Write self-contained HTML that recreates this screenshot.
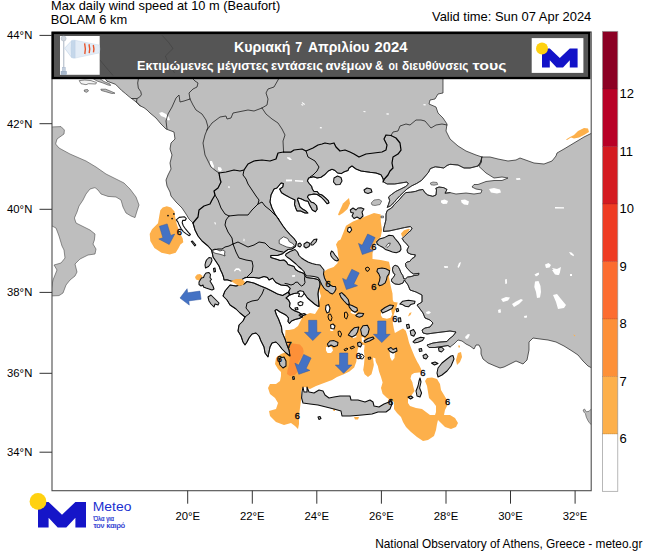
<!DOCTYPE html>
<html><head><meta charset="utf-8"><title>Max daily wind speed</title>
<style>
html,body{margin:0;padding:0;background:#fff;}
body{width:650px;height:551px;overflow:hidden;font-family:"Liberation Sans",sans-serif;}
svg{display:block;}
text{font-family:"Liberation Sans",sans-serif;}
</style></head><body>
<svg width="650" height="551" viewBox="0 0 650 551">
<rect width="650" height="551" fill="#fff"/>
<defs><clipPath id="c"><rect x="52" y="32" width="539.2" height="458.7"/></clipPath></defs>

<g clip-path="url(#c)">
<g fill="#FDB04B">
<path d="M338,214.6 L343,203.5 L349,198 L350,203.5 L347.5,209 L343,213 L339,215.4Z"/>
<path d="M380.8,214.6 L374,213 L364,217 L353,221.5 L346,225.7 L343.4,232.6 L340.6,239.5 L338,241 L336,244.4 L337.4,248.7 L338,254.5 L338.8,259 L337.4,263.2 L333.7,267 L328,269 L324.3,271.2 L322.4,278 L320,284 L319,290 L321,296 L319,302 L318.8,308 L315,314 L310,313 L305,315 L302,318 L300,322 L298,326 L294,329 L289,330 L285.5,330 L285,338 L287,342 L288,347 L286,352 L281,354 L276,358 L275,364 L278,369 L281,372 L281,376 L280,381 L276,384 L270,384 L268,388 L270,394 L275,398 L278,403 L276,409 L269,411 L270,416 L276,422 L284,425 L291,423 L295,426 L298,429 L299,424 L299,416 L300,408 L301,400 L301,392 L302,388 L305,387 L310,389 L316,386 L324,383 L332,380 L337,377 L343.8,374.3 L349.4,371.5 L354.2,367.4 L356.3,361.8 L357,355 L357.7,349.4 L359.8,343.8 L364.6,345.2 L364,350.8 L364.6,357.7 L364,364.6 L363.2,370 L364.6,374.3 L368,377 L371.5,374.3 L373,368.8 L374.3,363.2 L373.6,359 L375.7,361.8 L377.8,366 L379,371.5 L381,377 L382.6,382.6 L381,388 L382.6,393.7 L386.8,397.8 L391,400.6 L394,402 L394,409 L397,413 L401,417 L403,422 L406,427 L411,432 L417,437 L423,441 L428,440 L434,436 L436,430 L437,424 L438,420 L441,423 L445,427 L451,429 L456,427 L458,423 L455,418 L450,415 L444,415 L445,410 L447,406 L447,400 L444,395 L441,390 L440,384 L437,379 L432,377.6 L427,378 L425,381 L427,386 L428,392 L429,398 L433,402 L436,406 L436,412 L435,415 L430,415 L426,412 L422,409 L416,408 L410,406 L408,403 L408,399 L411.7,395 L414.5,391 L413,385.4 L412.4,382.2 L410.5,378.5 L411.5,374.8 L414.2,373 L421.2,372.3 L421.2,369.2 L418.9,364.6 L417.2,361.8 L414.5,356.3 L411.7,349.4 L409,342.5 L407.5,336.2 L405.8,330.7 L403,328.5 L401,329.6 L394.9,332.9 L393.8,328.5 L392.8,323 L392.8,319.8 L393.5,315.5 L394.9,311 L396.6,306.8 L397.7,302.4 L393.8,301.9 L392.8,300 L392.5,293.5 L390.5,285 L389,277 L390.5,268.6 L389,261.7 L380.8,260 L372.5,259 L372.5,253.4 L374,246.5 L376.6,241 L380.8,236.8 L382,230 L380.8,221.5Z"/>
<path d="M160.3,210.3 L159.2,216.2 L158,223.3 L152,229.2 L149.7,234 L150.3,241 L154.4,248 L161.5,252.8 L169.8,254.6 L175.7,252.8 L178.6,248 L180.4,244.5 L183.3,242.2 L182.7,238.6 L180.4,234 L178.6,229.2 L176.9,224.5 L175.9,220.4 L175,216.2 L174.5,211.5 L171,207.4 L166.8,206.2 L162.7,207.4Z"/>
<path d="M566,139.4 L570,137 L574,135 L578,131 L584,128 L588,128.6 L589,132 L584,135 L579,137.4 L574,138.6 L571,137.4 L567,140Z"/>
<path d="M195,277 L197,274.5 L200,274 L202.5,276 L202,279 L199,280.5 L196,279.5Z"/>
<path d="M458,353 L461,352 L462,357 L460,362 L457,365 L456,360Z"/>
<path d="M354,417 L359,417 L358,419.5 L355,419.5Z"/>
<path d="M333,409 L335,409 L335,411 L333.5,411Z"/>
<path d="M273.5,332 L275.5,333.3 L273.8,334.8Z"/>
<path d="M408,316.6 L409.5,313 L411.6,312.3 L410.5,315Z"/>
</g>
<g fill="#fff">
<path d="M326,347 L329,346.5 L332,347.5 L333,350.5 L331,353 L327.5,353 L326,350.5Z"/>
<path d="M389.5,351 L395,351 L394.5,358 L392,361 L390,357Z"/>
<path d="M373,357.5 L375.5,358.5 L375.5,365.5 L374,366Z"/>
<path d="M381.3,312.2 L386,310 L391,309 L392.2,314.4 L390.6,317.7 L386.8,318.7 L382.4,317.7 L380.8,315Z"/>
<path d="M351,311 L356,312.5 L357,314.5 L353,314 L350.5,312.5Z"/>
<path d="M361.5,337 L364.5,337.5 L364,342.5 L362,342Z"/>
<path d="M352,336.8 L356,335 L356.5,337 L353,338.3Z"/>
<path d="M330,329 L334,329 L333,331 L330.5,331Z"/>
</g>
<path d="M289.5,343 L294.9,343.8 L299.9,344.5 L302.9,348 L303.7,351.5 L302.9,354.5 L299.9,360 L296.9,365 L297.4,372 L294.9,375 L290,376.1 L287,373.9 L287.5,370 L289,365 L289.5,360 L290,355 L289,350 L288.5,346Z" fill="#FD9038"/>
<g fill="#BEBEBE" stroke="#1a1a1a" stroke-width="0.7" stroke-linejoin="round">
<path d="M79.2,80.6 L84.8,80 L91,80.6 L96.5,82.5 L95.8,84 L88.5,83.7 L86,84.7 L81,83.7Z" stroke="#3a3a3a" stroke-width="0.6" fill="#f2f2f2"/>
<path d="M92,78 L97,81 L103,83 L108,85 L110.6,85.5 L110,84 L104,81.5 L99,78Z" stroke="#3a3a3a" stroke-width="0.6"/>
<path d="M100.8,89.2 L105.7,89.2 L111.8,91.7 L115,93.2 L111.8,93.5 L105.7,91.7 L101.4,90.5Z" stroke="#3a3a3a" stroke-width="0.6"/>
<path d="M84.2,90 L87.5,89.5 L88.5,91 L86.5,92.3 L84.5,91.5Z" stroke="#3a3a3a" stroke-width="0.6"/>
<path d="M371.2,203 L374,200 L379,199.4 L381.7,201 L380,204.5 L375,205.5 L372,205Z" stroke="#3a3a3a" stroke-width="0.6"/>
<path d="M381,216 L383.5,216 L383.5,217.8 L381,217.8Z" stroke="#3a3a3a" stroke-width="0.6"/>
<path d="M430.3,183 L433,182 L437,182.5 L437.7,184.5 L434,185.2 L431,184.8Z" stroke="#3a3a3a" stroke-width="0.6"/>
<path d="M50,127 L61,126.6 L64.4,130 L64,134 L57,139 L55.6,144 L59,148 L70,154 L86,161 L96,167 L106,174 L116,179 L124,183 L130,189 L136,197 L139,205 L137,211 L135,217.6 L131,216 L126,213 L123,207 L121,200 L116,197 L108,196.4 L101,194 L98,190 L95,187.6 L90,189 L86,194 L83,200 L79,206 L77,212 L74.4,218 L76,223 L82,226 L90,230 L95,234 L94.4,240 L93,244 L96,249 L95,254 L88,255 L80,259 L75,264 L77,272 L75,276 L70,280 L66,285 L63,293 L59,295.6 L50,296 L53,280 L57,270 L54,265 L61,263 L65,258 L64,250 L62,246 L59,236 L56,228 L50,225Z" stroke="#4a4a4a" stroke-width="0.6"/>
<path d="M100,28 L105.7,79.4 L107,81.2 L112,83 L115.5,84.3 L118,86.8 L121.7,90.5 L125.4,93.5 L129,96.6 L131.5,98.5 L134,100.3 L137,102.8 L140,105.8 L144,107.7 L147,110 L150,113 L156,118 L161,124 L166,129 L174,132 L175,139 L171,143 L170,149 L172,155 L170,163 L171,169 L168,175 L166,180 L167,186 L170,192 L171,196 L176,202 L182,208 L186,214 L189,219 L193,223 L195,230 L198,236 L202,241 L208,246 L211.5,250 L212.5,254 L213,257 L215,260 L217,263 L219,266 L220.5,270 L222,273 L223.5,277 L224,280 L227,279.7 L231,281 L238,282 L245.4,277.4 L253.8,277.4 L259,278.2 L264,276.5 L267.4,277.4 L269,280 L272.5,278.2 L275.8,282.5 L281,285 L287.7,285.8 L290.2,288.4 L288.5,292 L290,295 L294,293.5 L298,293 L300,291 L304,293 L307.5,298 L311,301 L314.5,304 L317.5,306 L319,306.5 L318.5,299 L318,294 L318.5,290 L319.5,287 L320,284 L319.5,281.5 L318,279.5 L314,278.5 L310,278 L306.5,277.5 L305,276 L304,273.5 L301.5,272.5 L298.5,271.5 L295.5,269.5 L294,266.5 L291,265.5 L288,264.5 L286.5,262 L284,260 L280,260.5 L277.5,259.6 L270.8,257.5 L270.8,255.4 L277.5,255.4 L282.6,253.7 L285.2,251.5 L288,249.5 L292,249 L295.5,246.5 L296.5,242 L294,238.5 L290,234.5 L286,230 L283,226 L279,220 L275,214 L272,208 L270,202 L271,195 L274,189 L277,188 L281,183 L283.4,183.5 L282.8,187 L279.7,189 L281.5,192.7 L285.2,195 L290,197.6 L295,200 L294.5,204.4 L295.7,208 L297,211 L300.6,211 L305,213 L308,213 L306,211 L303,209.3 L300,206.8 L298.8,203 L297.5,199.5 L298,198 L301,198.8 L305,200.7 L308,201.3 L309.8,205.6 L312.3,210 L315.4,211.8 L317.2,209.3 L316.6,205.6 L314,203 L311,202 L309.2,199.5 L307.4,197 L308.6,195 L311.7,194.5 L314,194 L317.2,194.5 L321,197 L324.6,200.7 L327,203.8 L329,203 L328.3,200.7 L325.2,197.6 L322,195 L319,194 L317.2,191.5 L314,191.5 L312.3,189 L311.7,186.5 L309.2,183.5 L307.4,181 L308.6,178 L313.5,176.7 L317.2,178 L321,177.3 L324.6,174.8 L328.3,171 L332,169.3 L335,170.5 L337.5,173 L341.2,173.6 L344.3,171.8 L348,170.5 L349,168 L352,166 L356,169 L361,171 L370,172.3 L376,173 L381,174.8 L383,178.5 L383.5,182 L387.2,184 L394.6,184 L402,182.8 L407,182 L408.4,184 L405.7,186.5 L400.8,189 L395.8,191.4 L391.5,194.5 L388.5,197 L389.7,200.6 L388.5,204.3 L387.2,207.4 L390.3,206 L394,202.5 L396.5,199.4 L400,195.7 L403.8,192 L407,189 L411.8,185.8 L416.8,183.4 L421.7,180.3 L425.4,176 L428.5,172.3 L430.3,168.6 L435.2,166.8 L440,167.4 L443.8,168 L447,165.5 L450,164.3 L458,165 L464,168 L470,168 L478,166 L481,162 L482,157 L476,155 L466,151 L458,146 L450,139 L446,131 L447,124 L443,118 L438,113 L436,107 L429,104 L430,100 L435,99 L438,94 L443,93 L443,28Z"/>
<path d="M481.5,157 L490,157 L498,159 L508,161 L516,160 L520,158 L534,163 L544,164 L552,161 L556,156 L557,153 L564,149 L574,143 L584,137 L594,132 L594,369 L588,366 L583,361 L578,355 L572,351 L564,346 L556,342 L548,340 L540,339 L533,338 L529,342 L529,350 L527,360 L523,364 L516,361 L510,364 L504,367 L500,368 L495,366 L488,363 L483,359 L481,354 L481,349 L479,345 L476,345 L474,349 L470,346 L466,344 L462,341 L458,340 L454,344 L450,347 L448,345.5 L442,346.5 L435,347.5 L429,347.5 L427,345 L433,343 L440,342 L447,341.5 L449,339 L453,336 L456,332 L450,331 L442,332 L434,333 L427,334 L423,333 L422,330 L425,328 L430,327 L433,323 L430,320 L425,318 L423,313 L420,309 L417,305 L422,302 L422,295 L416,292 L410,290 L408,285 L404.4,280 L403,283 L399,284.5 L395,284 L392,282 L391.3,280 L392.4,278.2 L394,276.6 L395,274.4 L393.5,273.3 L392.4,270 L393,266.8 L395,265.2 L397.9,266.3 L399.5,269 L401,272.8 L402.8,275.5 L403.8,278.8 L405.5,278.8 L407.7,277 L411,276.6 L414.2,275.5 L418.5,275 L419,273.3 L413.6,274 L411,272.3 L408.2,269.5 L406,266.8 L405.5,263.5 L407,262 L409.8,261.4 L412,258.6 L414.7,257 L415.3,254.8 L411,254.3 L407.7,252.7 L407,250 L408.7,246.7 L406.6,244 L403.8,241.2 L402.2,238.5 L404.4,236.3 L407.7,233 L411,230.3 L412,228.2 L410.4,226.5 L404.4,227.6 L396.8,229.3 L389,231 L383.5,231.4 L383.7,228.7 L384.8,224.4 L385.9,220 L386,214 L387.2,210.5 L391.5,208 L394.6,204.3 L399,200 L402.6,195.7 L405.7,192.6 L410.6,192.2 L415.5,191.4 L419.2,190 L423,189.5 L424.8,192.6 L427.8,195 L432.8,196.3 L436,195 L436.5,190 L435.8,188.3 L439,187 L443.8,187.7 L447,189.5 L445,193.2 L450,192.6 L456,194 L466,193 L474,194 L481,193 L482,190 L476,189 L472,187 L474,184.5 L478,184.5 L486,181.5 L494,180.5 L502,180.5 L508,178 L502,177 L494,178 L486,173 L479,166.5 L481.5,162Z"/>
<path d="M230,285 L236,286 L244,284 L247,281.5 L253.8,283 L260.6,286 L265.7,288 L270.8,290.5 L277.5,294 L282.6,295.5 L288.5,292 L289.5,295 L286,298 L288.5,300 L290,303 L289.5,306.5 L291.5,309 L295,311 L299,312.5 L302,314.5 L302.5,317 L299,318.5 L295,319.5 L291.5,321 L289.5,323.5 L288,321.5 L288.5,318 L286.5,315.5 L284,314 L280,312 L276.5,309.5 L275,310.5 L276.5,315 L278.5,319 L280,323 L281.5,327 L282,332 L285,339 L287,345 L289,350 L290,356 L286,353 L282,349 L279,345 L276,342 L272,343 L270,347 L269,352 L268,357 L265,353 L264,347 L261,341 L259,336 L256,333 L252,334 L249,338 L247,342 L245,345 L243,342 L241,336 L238,331 L239,325 L243,321 L245,317 L240,313 L236,309 L230,305 L227,300 L223,296 L225,291Z"/>
<path d="M593,409 L591.3,409 L589,411.3 L586.3,411.8 L584.5,409 L583.1,410 L584,412.2 L585.4,413.6 L586.3,417.2 L588.1,420.9 L590,423.6 L591.3,424.5 L593,424.5Z" stroke="#4a4a4a" stroke-width="0.6"/>
</g>
<g fill="#BEBEBE" stroke="#0a0a0a" stroke-width="1.05" stroke-linejoin="round">
<path d="M286,254 L290,251.5 L295,249.5 L297.5,252 L299,255.5 L301.5,258 L304.5,260 L308,262 L312,263.5 L316,264.5 L320,265 L322,267.5 L324,270 L323.5,274 L324.5,278 L326,281 L328,283 L330,285 L333,286.5 L335.5,286.5 L336,289 L334.5,292 L332.5,294 L330,293 L328,291 L326,290 L324,288 L322,285 L320.5,282 L319.5,279.5 L318,277.5 L314,276.5 L310,276 L306.5,276 L305,274 L304,271.5 L301.5,269 L298.5,266.5 L296,264 L293,261.5 L290,259 L287,257 L285.5,255.5Z"/>
<path d="M303,387 L304,392 L307,392 L307,387 L309,392 L314,393 L319,390 L323,391 L325,395 L329,398 L334,397 L340,396 L350,396 L351,400 L358,400 L365,402 L370,400 L373,402 L374,406 L379,407 L384,404 L389,402 L391,400 L392,404 L390,409 L386,412 L378,412 L372,414 L362,415 L350,416 L342,416 L341,411 L334,409 L326,407 L318,405 L310,404 L303,403 L301.6,398 L302,392Z"/>
<path d="M206.5,260 L209,257.5 L211.5,258 L212,260.5 L210.5,264 L208.5,266.5 L205.5,268 L205,265 L205.5,262.5Z"/>
<path d="M206,273 L209,272.5 L210.5,274.5 L210,277.5 L211.5,279.5 L210,281 L211.5,283.5 L213,286 L214,289 L212,290 L209,289 L206,288 L203.5,287 L203,285 L201,286 L199,284.5 L199,282 L200.5,279.5 L201.5,278 L203.5,277.5 L204.5,275Z"/>
<path d="M213.5,268.5 L215,268 L215.5,271.5 L214,272Z"/>
<path d="M208,297 L211,295 L215,299 L219,303 L218,305 L215,304 L214,307 L211,304 L209,301Z"/>
<path d="M280,358 L284,357 L286,361 L286,366 L283,368 L280,365 L279,361Z"/>
<path d="M337.5,176 L341,177.5 L342,181 L340,184.5 L336,184.8 L333.5,182 L334,178Z"/>
<path d="M364,190 L367,188 L371,189 L372,192 L368,193.5 L365,192.5Z"/>
<path d="M350.3,210 L353,208 L356,210 L358,208 L361,207.7 L364,209 L362,212 L363,216 L360,218.8 L357,217 L354,218.5 L352,216 L353.5,213 L351,212.5Z"/>
<path d="M376.6,241.8 L379.4,239 L384.8,237.4 L389,235.2 L393,235.8 L395,238.5 L397.9,241.8 L400.6,246 L401,249.4 L399.5,251.6 L396.2,252.7 L392.4,252 L388.6,250.5 L385.3,249.4 L382.6,247.2 L379.4,245.6 L377.2,244Z"/>
<path d="M377.6,268.8 L382,268 L385.8,268.8 L389.6,270.7 L389,273.9 L387.1,276.5 L386.5,279.6 L385.2,282.8 L382.6,284.7 L379.5,285.7 L378.2,284.1 L379.5,280.9 L380.1,277.1 L378.8,273.9 L376.9,271.4Z"/>
<path d="M331.5,251 L333,252 L335,255 L337.5,258 L338.5,260 L337,261 L334.5,260 L332.5,258 L331,256 L330.5,253.5Z"/>
<path d="M298,244 L300,243 L301.5,245 L300,247 L298,246Z"/>
<path d="M304,244 L307,242 L310,243.5 L309,246.5 L306,248 L304,246.5Z"/>
<path d="M311,243 L314,239.5 L317,239 L316,242 L313,245 L311,245Z"/>
<path d="M339.5,293.7 L341.7,292.6 L345.3,296 L348.2,299.5 L349.4,304 L347.5,304.6 L344,301 L341,297.4Z"/>
<path d="M348.3,304.3 L352,305.5 L357,308 L357.5,310.5 L355,312.3 L352,310.5 L349.5,307.4Z"/>
<path d="M355.7,315.4 L358.8,313 L363.7,313.5 L362.5,316 L359.4,317.2 L357,316.6Z"/>
<path d="M348.3,335 L351,331 L354.5,327.7 L358.8,327 L357.5,332 L355.7,335 L352,337Z"/>
<path d="M360.6,329.5 L363,325.8 L367.4,325.2 L369.2,329 L368,333.8 L365,337 L361.8,335Z"/>
<path d="M327.4,344 L330,341 L334,340.6 L338,342.5 L337.5,345.5 L334,346.8 L331,345 L328.5,346.8Z"/>
<path d="M357.5,343 L360,342 L362,344 L360.5,347 L358,346Z"/>
<path d="M364,341 L368,338.5 L373,337 L374,338.5 L369.5,341 L365,342.5Z"/>
<path d="M381,310.5 L385,307.5 L390,305 L393.5,305.5 L392,308.5 L387,311 L382.5,313Z"/>
<path d="M399.8,304 L402.5,301.3 L408.5,300.2 L415,301.3 L414.5,303.5 L410.7,304.6 L408.5,306.8 L405.3,306.2 L402.5,304.6Z"/>
<path d="M413,341.8 L416,339 L420.5,337.3 L424.3,337.8 L422.5,340.5 L418,342.2 L414.5,342.9Z"/>
<path d="M410.2,331 L413.5,329.6 L415.6,333 L413.8,336.2 L411,335Z"/>
<path d="M406.4,324.8 L408.8,324.2 L409.6,327.8 L407.3,328.5Z"/>
<path d="M398,318 L400.5,317.7 L401,321.5 L398.5,322Z"/>
<path d="M453,355.6 L454,359 L451,366 L447,371 L442,375 L438,377 L437,373 L438,368 L442,363 L447,359 L451,356Z"/>
<path d="M420,378 L421,382 L419.6,388 L421.6,393 L420,397 L417,396 L416,391 L418,386 L419,381Z"/>
<path d="M408,397 L411,396 L413,397.5 L410.5,399Z"/>
<path d="M423,355.5 L426,354 L428,356.5 L426,359 L423.5,358Z"/>
<path d="M419,349 L421.5,348.5 L422,351 L419.5,351.5Z"/>
<path d="M438.5,348 L441.5,347 L444,349.5 L441.5,352 L439,351Z"/>
<path d="M431.5,363 L435,362 L438,363.5 L434.5,365Z"/>
<path d="M388,349 L391,347.5 L393,349.5 L396.5,348 L397,351 L393,353 L390,351.5Z"/>
<path d="M299,315 L304,313.5 L306,314.5 L301,316.5Z"/>
<path d="M292.5,377 L294,376.5 L294.5,379 L293,379.5Z"/>
<path d="M318,417 L320,416.5 L321,418.5 L319,419.5Z"/>
<path d="M191.3,241.5 L192.5,241 L195.8,245 L194.8,246Z"/>
<path d="M396,309 L398,308.4 L398.7,311 L396.8,311.7Z"/>
<path d="M295,308 L297.5,307.5 L298,309.5 L295.5,310Z"/>
</g>
<g fill="none" stroke="#0a0a0a" stroke-width="1.05" stroke-linejoin="round" stroke-linecap="round">
<path d="M193,223 L195,230 L198,236 L202,241 L208,246 L211.5,250 L212.5,254 L213,257 L215,260 L217,263 L219,266 L220.5,270 L222,273 L223.5,277 L224,280 L227,279.7 L231,281 L238,282 L245.4,277.4 L253.8,277.4 L259,278.2 L264,276.5 L267.4,277.4 L269,280 L272.5,278.2 L275.8,282.5 L281,285 L287.7,285.8 L290.2,288.4 L288.5,292 L290,295 L294,293.5 L298,293 L300,291 L304,293 L307.5,298 L311,301 L314.5,304 L317.5,306 L319,306.5 L318.5,299 L318,294 L318.5,290 L319.5,287 L320,284 L319.5,281.5 L318,279.5 L314,278.5 L310,278 L306.5,277.5 L305,276 L304,273.5 L301.5,272.5 L298.5,271.5 L295.5,269.5 L294,266.5 L291,265.5 L288,264.5 L286.5,262 L284,260 L280,260.5 L277.5,259.6 L270.8,257.5 L270.8,255.4 L277.5,255.4 L282.6,253.7 L285.2,251.5 L288,249.5 L292,249 L295.5,246.5 L296.5,242 L294,238.5 L290,234.5 L286,230 L283,226 L279,220 L275,214 L272,208 L270,202 L271,195 L274,189 L277,188 L281,183 L283.4,183.5 L282.8,187 L279.7,189 L281.5,192.7 L285.2,195 L290,197.6 L295,200 L294.5,204.4 L295.7,208 L297,211 L300.6,211 L305,213 L308,213 L306,211 L303,209.3 L300,206.8 L298.8,203 L297.5,199.5 L298,198 L301,198.8 L305,200.7 L308,201.3 L309.8,205.6 L312.3,210 L315.4,211.8 L317.2,209.3 L316.6,205.6 L314,203 L311,202 L309.2,199.5 L307.4,197 L308.6,195 L311.7,194.5 L314,194 L317.2,194.5 L321,197 L324.6,200.7 L327,203.8 L329,203 L328.3,200.7 L325.2,197.6 L322,195 L319,194 L317.2,191.5 L314,191.5 L312.3,189 L311.7,186.5 L309.2,183.5 L307.4,181 L308.6,178 L313.5,176.7 L317.2,178 L321,177.3 L324.6,174.8 L328.3,171 L332,169.3 L335,170.5 L337.5,173 L341.2,173.6 L344.3,171.8 L348,170.5 L349,168 L352,166 L356,169 L361,171 L370,172.3 L376,173 L381,174.8 L383,178.5"/>
<path d="M230,285 L236,286 L244,284 L247,281.5 L253.8,283 L260.6,286 L265.7,288 L270.8,290.5 L277.5,294 L282.6,295.5 L288.5,292 L289.5,295 L286,298 L288.5,300 L290,303 L289.5,306.5 L291.5,309 L295,311 L299,312.5 L302,314.5 L302.5,317 L299,318.5 L295,319.5 L291.5,321 L289.5,323.5 L288,321.5 L288.5,318 L286.5,315.5 L284,314 L280,312 L276.5,309.5 L275,310.5 L276.5,315 L278.5,319 L280,323 L281.5,327 L282,332 L285,339 L287,345 L289,350 L290,356 L286,353 L282,349 L279,345 L276,342 L272,343 L270,347 L269,352 L268,357 L265,353 L264,347 L261,341 L259,336 L256,333 L252,334 L249,338 L247,342 L245,345 L243,342 L241,336 L238,331 L239,325 L243,321 L245,317 L240,313 L236,309 L230,305 L227,300 L223,296 L225,291Z"/>
<path d="M450,347 L448,345.5 L442,346.5 L435,347.5 L429,347.5 L427,345 L433,343 L440,342 L447,341.5 L449,339 L453,336 L456,332 L450,331 L442,332 L434,333 L427,334 L423,333 L422,330 L425,328 L430,327 L433,323 L430,320 L425,318 L423,313 L420,309 L417,305 L422,302 L422,295 L416,292 L410,290 L408,285 L404.4,280 L403,283 L399,284.5 L395,284 L392,282 L391.3,280 L392.4,278.2 L394,276.6 L395,274.4 L393.5,273.3 L392.4,270 L393,266.8 L395,265.2 L397.9,266.3 L399.5,269 L401,272.8 L402.8,275.5 L403.8,278.8 L405.5,278.8 L407.7,277 L411,276.6 L414.2,275.5 L418.5,275 L419,273.3 L413.6,274 L411,272.3 L408.2,269.5 L406,266.8 L405.5,263.5 L407,262 L409.8,261.4 L412,258.6 L414.7,257 L415.3,254.8 L411,254.3 L407.7,252.7 L407,250 L408.7,246.7 L406.6,244 L403.8,241.2 L402.2,238.5 L404.4,236.3 L407.7,233 L411,230.3 L412,228.2 L410.4,226.5 L404.4,227.6 L396.8,229.3 L389,231 L383.5,231.4 L383.7,228.7 L384.8,224.4 L385.9,220 L386,214 L387.2,210.5 L391.5,208 L394.6,204.3 L399,200 L402.6,195.7 L405.7,192.6 L410.6,192.2 L415.5,191.4 L419.2,190 L423,189.5 L424.8,192.6 L427.8,195 L432.8,196.3 L436,195 L436.5,190 L435.8,188.3 L439,187 L443.8,187.7 L447,189.5 L445,193.2 L450,192.6" stroke-width="0.8" stroke="#1a1a1a"/>
<path d="M383,178.5 L383.5,182 L387.2,184 L394.6,184 L402,182.8 L407,182 L408.4,184 L405.7,186.5 L400.8,189 L395.8,191.4 L391.5,194.5 L388.5,197 L389.7,200.6 L388.5,204.3 L387.2,207.4 L390.3,206 L394,202.5 L396.5,199.4 L400,195.7 L403.8,192 L407,189 L411.8,185.8 L416.8,183.4 L421.7,180.3 L425.4,176 L428.5,172.3 L430.3,168.6 L435.2,166.8 L440,167.4 L443.8,168 L447,165.5 L450,164.3 L458,165 L464,168 L470,168 L478,166 L481,162 L482,157" stroke-width="0.8" stroke="#222"/>
</g>
<g fill="#fff" stroke="#111" stroke-width="1.1" stroke-linejoin="round">
<path d="M176.3,219.8 L179.2,217.4 L184.5,216.8 L186.3,218.6 L185.1,220.4 L182.7,220.4 L182.2,222.7 L183.3,225.7 L185.7,229.2 L188.6,232.7 L190.4,234.5 L189.2,235.7 L186.3,233.9 L183.3,231.6 L181,228.6 L179.2,225.1 L178,222.1Z"/>
<path d="M326,305.5 L328.5,304.5 L330,308 L329,312 L327,313 L325.5,309.5Z"/>
<path d="M297.5,292 L300,290.8 L303.5,291.5 L304,294 L301.5,296.8 L298.5,296.5 L299.5,294Z"/>
<path d="M298,303 L300.5,301.5 L303,302.5 L302.5,305 L300,305.7 L298.3,304.8Z"/>
<path d="M330.5,325 L333,324 L335,326 L334,329 L331,328.5Z"/>
<path d="M348,228 L350.5,227 L351.7,230 L349.5,232.6 L347.5,231Z"/>
</g>
<g fill="none" stroke="#0a0a0a" stroke-width="1.0" stroke-linejoin="round">
<path d="M328.5,314.5 L330.5,314 L332,317.5 L331,321 L329,320 L328,317Z"/>
<path d="M344.5,312.5 L346.5,312 L348,315 L346.5,319 L344.5,317.5Z"/>
<path d="M338,331.5 L340,331 L341.6,334 L340.5,337 L338.5,335.5Z"/>
<path d="M344,349.5 L347,348 L348,349 L345,351Z"/>
<path d="M350,347.5 L353.5,346 L354.5,347.5 L351,349Z"/>
<path d="M368,357.5 L370.5,357 L371,358.8 L368.5,359.3Z"/>
<path d="M365.5,268 L368,267 L369.7,269 L368,271.4 L366,270.5Z"/>
<path d="M359.5,355 L362,354 L364,356.5 L362.5,359 L360,358.5 L361.5,356.5Z"/>
</g>
<g fill="#111">
<circle cx="168" cy="215.6" r="0.9"/>
<circle cx="173.9" cy="213.9" r="0.9"/>
<circle cx="172.1" cy="218.6" r="0.9"/>
</g>
<g fill="#fff" stroke="none">
<path d="M212.5,250 L215,249 L218,250 L220,251 L223,250 L225,251.5 L224.5,254 L225,256 L222.5,255 L219,254 L216,253.5 L213.5,252.5Z" stroke="#1a1a1a" stroke-width="0.7"/>
<path d="M279.2,240 L283.5,236.8 L287.7,238.5 L289.4,241.8 L292.8,243.5 L294.5,246 L291,247.8 L286.8,247 L282.6,245.2 L279.2,243.5Z" stroke="#1a1a1a" stroke-width="0.7"/>
<path d="M159,113 L162,112 L166,114 L169,117 L170,120 L168,120.5 L165,117.5 L161,116Z"/>
<path d="M210,161 L212,161 L214,166 L213.5,169 L211.5,168 L210,164Z"/>
<path d="M218,167 L221,167.5 L222,170 L220,171.5 L218,170Z"/>
<path d="M287,157 L290,157.5 L292,160 L289.5,160 L287.5,158.5Z"/>
<path d="M286,179.6 L292,179.4 L292,181.2 L286,181.4Z"/>
<path d="M295,180 L303,180.4 L303,182 L295,181.6Z"/>
<path d="M441,200.5 L444.5,199.4 L448,201 L447,203.7 L443,204 L441,202.5Z"/>
<path d="M461,200 L465,199.6 L469,201.5 L468,205 L464,204.5 L461.5,202.5Z"/>
<path d="M489,189 L494,188 L500,189.5 L501,192.5 L497,193.6 L491,192.5Z"/>
<path d="M516,178.2 L520,178 L520.5,179.8 L516.5,180Z"/>
<path d="M545,264.5 L548.5,263 L551,265 L549.5,267.5 L546,268Z"/>
<path d="M552,268 L557,269 L561,267 L560,272 L557.5,275 L554.5,273 L553.5,270Z"/>
<path d="M569,252 L571.5,252.5 L574,255 L573.5,256.3 L570.5,254.5Z"/>
<path d="M535,281.5 L538.5,281 L540.5,286 L541,292 L540,297.5 L537,298 L536,292 L534.3,287Z"/>
<path d="M534.5,274.5 L538.5,272.5 L539,274 L536,276.5Z"/>
<path d="M553,295 L557,294 L561,299 L566,305 L564,308 L558,309 L556,302Z"/>
<path d="M552,270 L556,270 L560,272 L559,275 L555,274.5Z"/>
<path d="M501,299 L506,297 L510,297.5 L508,300.5 L503,302Z"/>
<path d="M512,304 L516,301.5 L521,299 L523,300 L519,304 L514,307Z"/>
<path d="M498,310 L500.5,309 L501,312.5 L498.5,313Z"/>
<path d="M465,337 L468,334 L470,334.5 L468,338.5 L466,339Z"/>
<path d="M426,312 L429,311 L431,312.5 L429,314 L426.5,313.8Z"/>
<path d="M505,279.5 L506.8,279 L507,283.5 L505.3,284Z"/>
<path d="M444,266 L448,266.3 L448,267.8 L444.5,268Z"/>
<path d="M457.5,267 L459,263 L461,262 L460,265.5 L458.5,268Z"/>
<path d="M555,207 L564,207.3 L564,208.6 L555,208.4Z"/>
<path d="M536,274 L538.5,272.8 L539,274.5 L536.8,276Z"/>
<path d="M570,274 L572,274 L572,276 L570,276Z"/>
<path d="M302,102 L305,104 L304.5,105 L301.8,103Z"/>
<path d="M524,316 L527,315.5 L527,317.5 L524.5,318Z"/>
<path d="M292,275.3 L295,275 L295,276.8 L292.3,277Z"/>
<path d="M386,246.5 L388,243.5 L390.3,243 L389.5,245.5 L387,247.5Z" stroke="#1a1a1a" stroke-width="0.7"/>
<path d="M234,270.5 L236,268.3 L239,268.3 L241,270.5 L240.3,271.8 L238.5,270 L236.2,270 L234.8,271.8Z"/>
<path d="M320,127 L322,127.3 L321.6,128.6 L319.8,128.3Z"/>
<path d="M301.5,104 L303.5,104.8 L303,105.8 L301.2,105Z"/>
<path d="M386.5,113.2 L389,113.6 L388.6,114.8 L386.4,114.4Z"/>
<path d="M363.5,111 L365.6,111.2 L365.4,112.3 L363.4,112Z"/>
<path d="M423.5,104 L425.8,104.3 L425.5,105.5 L423.4,105.2Z"/>
<path d="M214.3,222 L215.6,222.4 L216,224.5 L214.8,224.2Z"/>
<path d="M228.3,186 L229.8,186.4 L229.6,188.2 L228.2,187.8Z"/>
<path d="M243.6,238.5 L244.6,239 L244.4,241.5 L243.4,241Z"/>
</g>
<g fill="#FDB04B">
<path d="M231,281 L236,279 L242,279 L245,282 L243,285 L239,286 L234,283Z"/>
<path d="M401,233.6 L404,230.3 L408.7,228.7 L410,229.3 L407.7,232.5 L404.4,235.8 L402.2,237Z"/>
<path d="M573.2,334.6 L575.4,335.2 L574.6,336.6Z"/>
<path d="M458.2,345.6 L459.8,345.4 L460,347.4 L458.5,347.6Z"/>
</g>
<g fill="none" stroke="#151515" stroke-width="0.9" stroke-linejoin="round" stroke-linecap="round">
<path d="M167,129 L166,121 L168,114 L172,107 L176,98 L179,95 L180,102 L184,101 L190,99" stroke="#222" stroke-width="0.8"/>
<path d="M190,99 L189,93 L193,89 L197,87 L198,83 L195,81 L192,78" stroke="#222" stroke-width="0.8"/>
<path d="M190,99 L193,105 L196,110 L202,114 L206,120 L208,127 L207,130" stroke="#222" stroke-width="0.8"/>
<path d="M207,130 L212,123 L220,117 L226,116 L227,119 L231,118 L233,113 L238,112 L248,110 L254,111 L262,108" stroke="#222" stroke-width="0.8"/>
<path d="M262,108 L267,105 L268,99 L266,93 L268,89 L274,87 L278,80 L279,78" stroke="#222" stroke-width="0.8"/>
<path d="M262,108 L266,114 L272,119 L278,123 L282,129 L285,135 L283,141 L283.6,152" stroke="#222" stroke-width="0.8"/>
<path d="M207,130 L205,135 L203,143 L204,149 L205,155 L208,161 L211,167 L216,171 L219,173" stroke="#222" stroke-width="0.8"/>
<path d="M219,173 L226,172 L234,170 L240,171 L244,170 L248,164 L254,161 L262,160 L270,161 L276,159 L278,153 L283.6,152" stroke="#000" stroke-width="1.25"/>
<path d="M219,173 L220,179 L221,182 L218,188 L214,191 L215,195 L212,200 L210,204 L204,206 L199,210 L198,217 L193,223" stroke="#000" stroke-width="1.25"/>
<path d="M283.6,152 L291,152 L294,150 L302,149 L306,151 L313,148 L318,145 L322,144 L325,143 L330,144 L334,143 L336,147 L340,151 L345,150 L350,152 L354,154 L359,157 L366,154 L374,153 L382,152 L386,150 L387,145 L384,139 L386,135 L391,135.5" stroke="#000" stroke-width="1.25"/>
<path d="M391,135.5 L393,132 L398,131 L400,126 L406,124 L410,125 L416,120 L421,120 L425,121 L431,128 L436,125 L442,124 L447,125" stroke="#222" stroke-width="0.8"/>
<path d="M391,135.5 L396,138 L400,143 L401,150 L398,154 L393,157 L392,163 L393,168 L390,171 L388,175 L384.4,179 L383,182" stroke="#000" stroke-width="1.25"/>
<path d="M482,157 L480,163 L478,166" stroke="#222" stroke-width="0.8"/>
<path d="M306,151 L308,157 L315,161 L319,167 L317,171 L313,175 L310,177" stroke="#0a0a0a" stroke-width="1.0"/>
<path d="M244,170 L243,175 L246,179 L248,184 L252,190 L256,196 L259,200 L258,204" stroke="#0a0a0a" stroke-width="1.0"/>
<path d="M258,204 L252,210 L248,215 L238,215 L229,216" stroke="#0a0a0a" stroke-width="1.0"/>
<path d="M258,204 L262,202 L265,206 L270,210 L275,215 L279,219" stroke="#0a0a0a" stroke-width="1.0"/>
<path d="M215,195 L218,200 L221,208 L225,214 L229,216" stroke="#0a0a0a" stroke-width="1.0"/>
<path d="M229,216 L226,220 L225,225 L228,232 L232,238 L233,244" stroke="#0a0a0a" stroke-width="1.0"/>
<path d="M233,244 L229,246 L225,247 L222,249 L218,249 L213,250" stroke="#0a0a0a" stroke-width="1.0"/>
<path d="M233,244 L238,242 L242,244 L248,247 L254,245 L259,242 L265,243 L270,248 L278,251 L283,252" stroke="#0a0a0a" stroke-width="1.0"/>
<path d="M233,244 L236,252 L239,258 L246,260 L252,261 L253,266 L252,272 L248,276 L246,278" stroke="#0a0a0a" stroke-width="1.0"/>
<path d="M264,289 L262,294 L258,300 L252,301 L247,303 L246,308 L250,313 L245,317" stroke="#0a0a0a" stroke-width="1.0"/>
<path d="M305,276 L304.5,279 L305,282.5 L303.5,285 L301.5,286 L299,284 L297.5,282 L295,282.5 L294,284 L291,285 L288,284 L285,283.5" stroke="#0a0a0a" stroke-width="1.0"/>
<path d="M138.3,79.4 L137.7,83 L138.3,88 L140.8,91.7 L141.4,94.8 L139.5,97.2 L137,98.5 L136.5,102 L140,105.8" stroke="#222" stroke-width="0.8"/>
<path d="M131.5,98.5 L136.5,98.5" stroke="#222" stroke-width="0.8"/>
</g>
<g font-size="9.3" fill="#0a0a0a" stroke="#0a0a0a" stroke-width="0.4" text-anchor="middle">
<text x="179.4" y="234.60000000000002">6</text>
<text x="373.8" y="249.8">6</text>
<text x="328" y="286.8">6</text>
<text x="373.8" y="289.90000000000003">6</text>
<text x="394.8" y="322.3">6</text>
<text x="279.4" y="362.3">6</text>
<text x="358.3" y="358.6">6</text>
<text x="422.8" y="376.1">6</text>
<text x="390.7" y="405.3">6</text>
<text x="447.6" y="405.3">6</text>
<text x="297.4" y="419.3">6</text>
<text x="289.1" y="347.90000000000003">7</text>
</g>
<g fill="#4472C4" stroke="#355BA3" stroke-width="0.5" stroke-linejoin="miter">
<path d="M159.4,226.3 L162.9,237.8 L158.8,239 L169.2,244.5 L174.7,234.1 L170.7,235.4 L167.2,223.9Z"/>
<path d="M199.9,291.1 L187.7,292.8 L187.1,288.7 L180,298 L189.3,305.1 L188.8,300.9 L201.1,299.3Z"/>
<path d="M367.7,234 L362.2,245.2 L358.5,243.4 L362.3,254.5 L373.4,250.7 L369.6,248.8 L375.1,237.6Z"/>
<path d="M351.8,269.3 L346.4,280.2 L342.6,278.4 L346.4,289.5 L357.5,285.7 L353.8,283.9 L359.2,272.9Z"/>
<path d="M308.6,320.3 L308.7,332.3 L304.5,332.3 L312.8,340.6 L321.1,332.3 L316.9,332.3 L316.8,320.3Z"/>
<path d="M377.7,321 L377.7,334.3 L373.5,334.3 L381.8,342.6 L390.1,334.3 L385.9,334.3 L385.9,321Z"/>
<path d="M339.6,353 L339.5,365 L335.3,365 L343.6,373.3 L351.9,365 L347.7,365 L347.8,353Z"/>
<path d="M303.7,354.4 L298.7,365 L294.9,363.2 L298.8,374.3 L309.9,370.4 L306.1,368.6 L311.1,358Z"/>
</g>
</g>
<rect x="52" y="32" width="539.2" height="458.7" fill="none" stroke="#4d4d4d" stroke-width="1.1"/>
<rect x="52.75" y="32.95" width="536.5" height="45.1" fill="#555555" stroke="#000" stroke-width="2.3"/>
<g fill="none" stroke="#000" stroke-opacity="0.2" stroke-width="0.8">
<path d="M99.2,59.2 L107,68.5 L113,75.5"/>
<path d="M162.3,35.5 L168.5,42.3 L173,48.5 L165.4,56 L168.5,63.8 L174.6,73"/>
</g>
<rect x="60" y="36" width="39.7" height="38.8" fill="#fff"/>
<g>
<rect x="63.15" y="39" width="1.2" height="33" fill="#b7c0cc"/>
<circle cx="63.6" cy="38.5" r="2.5" fill="#cfd4db" stroke="#a9b2c0" stroke-width="0.5"/>
<rect x="62.3" y="67.3" width="3" height="4" fill="#c2cedd" stroke="#9fb0c6" stroke-width="0.4"/>
<rect x="61" y="71.2" width="5.6" height="3.5" fill="#a9b9cd" stroke="#8fa2ba" stroke-width="0.4"/>
<path d="M64.6,48.2 L71.6,40.8 L71.6,57.4 Z" fill="#e6eef7" stroke="#c0d2e6" stroke-width="0.6"/>
<path d="M75,40.3 L99.3,45.1 Q100.2,49 99.3,52.9 L75,58.1 Z" fill="#e3ecf6" stroke="#c8d8e9" stroke-width="0.5"/>
<path d="M71.6,40.6 Q73.3,40 75,40.3 L75,58.1 Q73.3,58.4 71.6,57.6 Q70.4,49 71.6,40.6Z" fill="#c5d7ea" stroke="#b7cce2" stroke-width="0.4"/>
<path d="M84.6,43.4 Q86,48.8 84.8,54" stroke="#e8552b" stroke-width="1.4" fill="none"/>
<path d="M89,44.2 Q90.3,48.8 89.2,53.2" stroke="#e8552b" stroke-width="1.4" fill="none"/>
<path d="M93.3,45 Q94.4,48.8 93.5,52.4" stroke="#e8552b" stroke-width="1.4" fill="none"/>
</g>
<g font-size="14.1" font-weight="bold" fill="#fff">
<text x="233.9" y="52.2" textLength="56.6" lengthAdjust="spacingAndGlyphs">Κυριακή</text>
<text x="295.3" y="52.2" textLength="6.9" lengthAdjust="spacingAndGlyphs">7</text>
<text x="307.9" y="52.2" textLength="61.5" lengthAdjust="spacingAndGlyphs">Απριλίου</text>
<text x="374.5" y="52.2" textLength="32.9" lengthAdjust="spacingAndGlyphs">2024</text>
</g>
<g font-size="13" font-weight="bold" fill="#fff">
<text x="137.1" y="69.9" textLength="76.4" lengthAdjust="spacingAndGlyphs">Εκτιμώμενες</text>
<text x="217.1" y="69.9" textLength="51.4" lengthAdjust="spacingAndGlyphs">μέγιστες</text>
<text x="271.1" y="69.9" textLength="51.8" lengthAdjust="spacingAndGlyphs">εντάσεις</text>
<text x="325.5" y="69.9" textLength="47.0" lengthAdjust="spacingAndGlyphs">ανέμων</text>
<text x="375.1" y="69.9" textLength="8.4" lengthAdjust="spacingAndGlyphs">&amp;</text>
<text x="388.5" y="69.9" textLength="9.4" lengthAdjust="spacingAndGlyphs">οι</text>
<text x="402.1" y="69.9" textLength="66.4" lengthAdjust="spacingAndGlyphs">διευθύνσεις</text>
<text x="472.5" y="69.9" textLength="34.0" lengthAdjust="spacingAndGlyphs">τους</text>
</g>
<rect x="531.7" y="38.1" width="51.7" height="34.8" fill="#fff"/>
<path d="M542,48.4 L549.8,48.4 L559.8,57.9 L569.8,48.4 L577.6,48.4 L577.6,67.4 L569.8,67.4 L569.8,60.2 L563,67.4 L556.6,67.4 L549.8,60.2 L549.8,67.4 L542,67.4Z" fill="#1212c8"/>
<circle cx="542" cy="48.4" r="6" fill="#FFD110"/>
<rect x="602.4" y="433.8" width="15.4" height="57.8" fill="#ffffff"/>
<rect x="602.4" y="376.3" width="15.4" height="57.8" fill="#FDB04B"/>
<rect x="602.4" y="318.8" width="15.4" height="57.8" fill="#FD9038"/>
<rect x="602.4" y="261.3" width="15.4" height="57.8" fill="#FC6C30"/>
<rect x="602.4" y="203.8" width="15.4" height="57.8" fill="#EE3B22"/>
<rect x="602.4" y="146.3" width="15.4" height="57.8" fill="#D41A20"/>
<rect x="602.4" y="88.8" width="15.4" height="57.8" fill="#B80026"/>
<rect x="602.4" y="31.3" width="15.4" height="57.8" fill="#8C0024"/>
<rect x="602.4" y="31.3" width="15.4" height="460.0" fill="none" stroke="#999" stroke-width="0.7"/>
<g font-size="13" fill="#000">
<text x="619.6" y="443.4">6</text>
<line x1="602.4" x2="617.8" y1="433.8" y2="433.8" stroke="#333" stroke-width="0.5" stroke-dasharray="1,1" opacity="0.6"/>
<text x="619.6" y="385.9">7</text>
<line x1="602.4" x2="617.8" y1="376.3" y2="376.3" stroke="#333" stroke-width="0.5" stroke-dasharray="1,1" opacity="0.6"/>
<text x="619.6" y="328.4">8</text>
<line x1="602.4" x2="617.8" y1="318.8" y2="318.8" stroke="#333" stroke-width="0.5" stroke-dasharray="1,1" opacity="0.6"/>
<text x="619.6" y="270.9">9</text>
<line x1="602.4" x2="617.8" y1="261.3" y2="261.3" stroke="#333" stroke-width="0.5" stroke-dasharray="1,1" opacity="0.6"/>
<text x="619.6" y="213.4">10</text>
<line x1="602.4" x2="617.8" y1="203.8" y2="203.8" stroke="#333" stroke-width="0.5" stroke-dasharray="1,1" opacity="0.6"/>
<text x="619.6" y="155.9">11</text>
<line x1="602.4" x2="617.8" y1="146.3" y2="146.3" stroke="#333" stroke-width="0.5" stroke-dasharray="1,1" opacity="0.6"/>
<text x="619.6" y="98.4">12</text>
<line x1="602.4" x2="617.8" y1="88.8" y2="88.8" stroke="#333" stroke-width="0.5" stroke-dasharray="1,1" opacity="0.6"/>
</g>
<g stroke="#333" stroke-width="1">
<line x1="39.5" x2="52" y1="35.4" y2="35.4"/>
<line x1="39.5" x2="52" y1="123.7" y2="123.7"/>
<line x1="39.5" x2="52" y1="209.3" y2="209.3"/>
<line x1="39.5" x2="52" y1="292.4" y2="292.4"/>
<line x1="39.5" x2="52" y1="373.3" y2="373.3"/>
<line x1="39.5" x2="52" y1="452.2" y2="452.2"/>
<line x1="187.7" x2="187.7" y1="490.7" y2="503.7"/>
<line x1="252.3" x2="252.3" y1="490.7" y2="503.7"/>
<line x1="316.8" x2="316.8" y1="490.7" y2="503.7"/>
<line x1="381.4" x2="381.4" y1="490.7" y2="503.7"/>
<line x1="446.0" x2="446.0" y1="490.7" y2="503.7"/>
<line x1="510.5" x2="510.5" y1="490.7" y2="503.7"/>
<line x1="575.1" x2="575.1" y1="490.7" y2="503.7"/>
</g>
<g font-size="11.3" fill="#000">
<text x="32.3" y="39.4" text-anchor="end">44°N</text>
<text x="32.3" y="127.7" text-anchor="end">42°N</text>
<text x="32.3" y="213.3" text-anchor="end">40°N</text>
<text x="32.3" y="296.4" text-anchor="end">38°N</text>
<text x="32.3" y="377.3" text-anchor="end">36°N</text>
<text x="32.3" y="456.2" text-anchor="end">34°N</text>
<text x="187.7" y="520.3" text-anchor="middle">20°E</text>
<text x="252.3" y="520.3" text-anchor="middle">22°E</text>
<text x="316.8" y="520.3" text-anchor="middle">24°E</text>
<text x="381.4" y="520.3" text-anchor="middle">26°E</text>
<text x="446.0" y="520.3" text-anchor="middle">28°E</text>
<text x="510.5" y="520.3" text-anchor="middle">30°E</text>
<text x="575.1" y="520.3" text-anchor="middle">32°E</text>
</g>
<text x="51" y="9.7" font-size="12.9" fill="#000" textLength="229.2" lengthAdjust="spacingAndGlyphs">Max daily wind speed at 10 m (Beaufort)</text>
<text x="50.8" y="23.9" font-size="12.9" fill="#000" textLength="76.4" lengthAdjust="spacingAndGlyphs">BOLAM 6 km</text>
<text x="432" y="21.2" font-size="12.9" fill="#000" textLength="159.3" lengthAdjust="spacingAndGlyphs">Valid time: Sun 07 Apr 2024</text>
<text x="375.2" y="547.7" font-size="11.9" fill="#000" textLength="267.2" lengthAdjust="spacingAndGlyphs">National Observatory of Athens, Greece - meteo.gr</text>
<path d="M38,502 L48.6,502 L62,514.7 L75.4,502 L86,502 L86,527.4 L75.4,527.4 L75.4,517.7 L66.3,527.4 L57.7,527.4 L48.6,517.7 L48.6,527.4 L38,527.4Z" fill="#1515c8"/>
<circle cx="38" cy="501.4" r="8.4" fill="#FFD110"/>
<text x="92.8" y="510.6" font-size="12" fill="#1a2fd0" textLength="38.6" lengthAdjust="spacingAndGlyphs">Meteo</text>
<text x="93.4" y="520.6" font-size="6.6" fill="#1a2fd0" stroke="#1a2fd0" stroke-width="0.2" textLength="20.6" lengthAdjust="spacingAndGlyphs">Όλα για</text>
<text x="93.4" y="527.6" font-size="6.6" fill="#1a2fd0" stroke="#1a2fd0" stroke-width="0.2" textLength="31.6" lengthAdjust="spacingAndGlyphs">τον καιρό</text>
</svg></body></html>
